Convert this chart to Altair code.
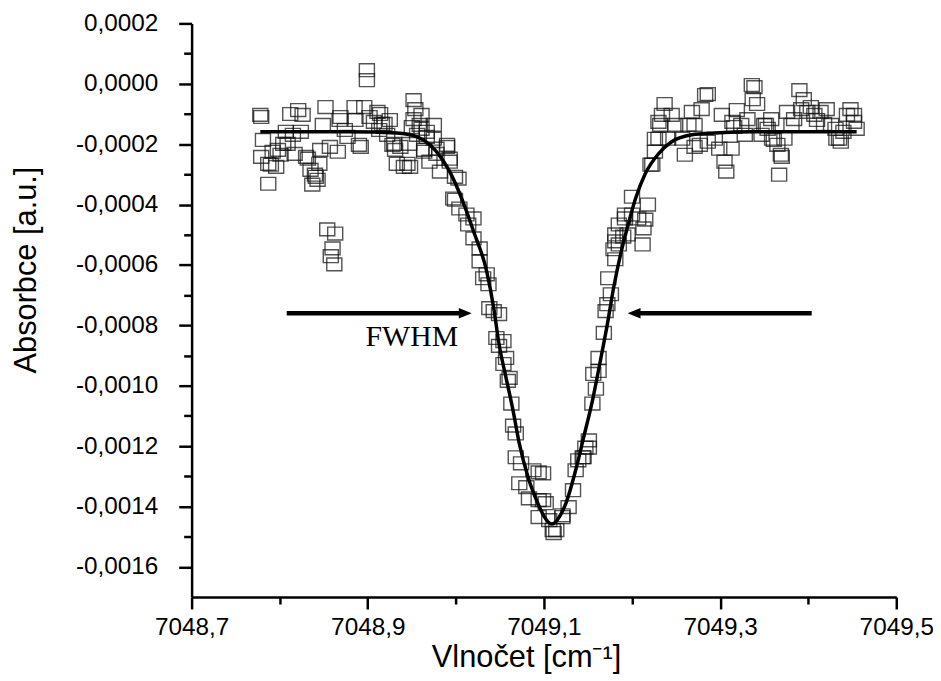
import altair as alt
import pandas as pd

# ---- measured data (absorbance spectrum) ----
scatter_x = [
    7048.778, 7048.779, 7048.781, 7048.779, 7048.787, 7048.787, 7048.790, 7048.792, 7048.798, 7048.801,
    7048.796, 7048.812, 7048.821, 7048.826, 7048.807, 7048.815, 7048.824, 7048.809, 7048.817, 7048.830,
    7048.835, 7048.840, 7048.837, 7048.843, 7048.845, 7048.846, 7048.852, 7048.849, 7048.857, 7048.866,
    7048.869, 7048.874, 7048.877, 7048.885, 7048.892, 7048.890, 7048.896, 7048.899, 7048.899, 7048.902,
    7048.907, 7048.913, 7048.914, 7048.919, 7048.922, 7048.925, 7048.930, 7048.931, 7048.933, 7048.941,
    7048.945, 7048.937, 7048.947, 7048.952, 7048.950,
    7048.854, 7048.863, 7048.860, 7048.858, 7048.862,
    7048.804, 7048.832, 7048.841, 7048.868, 7048.886, 7048.911, 7048.916, 7048.928, 7048.954, 7048.961,
    7048.961, 7048.975, 7048.967, 7048.964, 7048.970, 7048.978, 7048.990, 7048.993, 7048.982, 7048.999,
    7048.997,
    7048.952, 7048.959, 7048.967, 7048.956, 7048.964, 7048.948, 7048.975, 7048.978, 7048.990, 7048.993,
    7049.003, 7048.999, 7049.004, 7049.012, 7049.020, 7049.014, 7049.020, 7049.027, 7049.027, 7049.035,
    7049.031, 7049.037, 7049.038, 7049.043, 7049.049, 7049.046, 7049.054, 7049.049, 7049.057, 7049.054,
    7049.061, 7049.059, 7049.063, 7049.065, 7049.068, 7049.068, 7049.074, 7049.088, 7049.094, 7049.072,
    7049.080, 7049.083, 7049.094, 7049.102, 7049.106, 7049.110, 7049.111, 7049.094, 7049.121, 7049.128,
    7049.133, 7049.136, 7049.144, 7049.147, 7049.151,
    7049.099, 7049.099, 7049.114, 7049.121, 7049.139, 7049.145, 7049.151, 7049.155, 7049.159, 7049.156,
    7049.162, 7049.162, 7049.168, 7049.170, 7049.172, 7049.176, 7049.173, 7049.181, 7049.179, 7049.185,
    7049.181, 7049.190, 7049.185, 7049.192, 7049.200, 7049.207, 7049.215, 7049.213, 7049.212, 7049.200,
    7049.218, 7049.223, 7049.226, 7049.230, 7049.232, 7049.234,
    7049.226, 7049.230, 7049.237, 7049.245, 7049.249, 7049.241, 7049.257, 7049.260, 7049.268, 7049.271,
    7049.279, 7049.283, 7049.286, 7049.277, 7049.286, 7049.294, 7049.302, 7049.299, 7049.305, 7049.307,
    7049.313, 7049.319, 7049.314, 7049.324, 7049.328, 7049.331, 7049.336, 7049.339, 7049.337, 7049.342,
    7049.347, 7049.352, 7049.358, 7049.354, 7049.359, 7049.365, 7049.369, 7049.367, 7049.373, 7049.376,
    7049.381, 7049.384, 7049.390, 7049.395, 7049.392, 7049.399, 7049.403, 7049.407, 7049.410, 7049.414,
    7049.418, 7049.421, 7049.426, 7049.431, 7049.435, 7049.437, 7049.440, 7049.444, 7049.448, 7049.452,
    7049.455,
    7049.221, 7049.192, 7049.181, 7049.195, 7049.264, 7049.271, 7049.350, 7049.361, 7049.370, 7049.432,
    7049.452, 7049.316,
]
scatter_y = [
    -0.000103, -0.000110, -0.000186, -0.000242, -0.000331, -0.000265, -0.000268, -0.000225, -0.000219, -0.000235,
    -0.000275, -0.000100, -0.000087, -0.000103, -0.000159, -0.000169, -0.000159, -0.000199, -0.000232, -0.000242,
    -0.000285, -0.000301, -0.000334, -0.000318, -0.000265, -0.000219, -0.000077, -0.000136, -0.000209, -0.000225,
    -0.000110, -0.000153, -0.000176, -0.000077, -0.000209, -0.000202, -0.000077, 0.000045, 0.000012, -0.000110,
    -0.000126, -0.000153, -0.000100, -0.000133, -0.000169, -0.000120, -0.000199, -0.000219, -0.000265, -0.000275,
    -0.000265, -0.000209, -0.000199, -0.000054, -0.000143,
    -0.000482, -0.000496, -0.000545, -0.000571, -0.000598,
    -0.000199, -0.000248, -0.000308, -0.000120, -0.000120, -0.000093, -0.000133, -0.000202, -0.000084, -0.000103,
    -0.000149, -0.000136, -0.000176, -0.000219, -0.000258, -0.000232, -0.000209, -0.000248, -0.000291, -0.000308,
    -0.000380,
    -0.000117, -0.000136, -0.000159, -0.000169, -0.000225, -0.000275, -0.000182, -0.000215, -0.000202, -0.000258,
    -0.000314, -0.000384, -0.000413, -0.000433, -0.000446, -0.000466, -0.000512, -0.000545, -0.000588, -0.000631,
    -0.000644, -0.000664, -0.000743, -0.000753, -0.000763, -0.000842, -0.000852, -0.000868, -0.000908, -0.000928,
    -0.000974, -0.000984, -0.001059, -0.001132, -0.001158, -0.001237, -0.001257, -0.001280, -0.001287, -0.001323,
    -0.001336, -0.001373, -0.001379, -0.001389, -0.001445, -0.001478, -0.001488, -0.001435, -0.001435, -0.001402,
    -0.001346, -0.001280, -0.001237, -0.001205, -0.001181,
    -0.001290, -0.001379, -0.001478, -0.001429, -0.001247, -0.001237, -0.001205, -0.001059, -0.001010, -0.000961,
    -0.000951, -0.000908, -0.000825, -0.000753, -0.000730, -0.000697, -0.000644, -0.000581, -0.000548, -0.000532,
    -0.000499, -0.000506, -0.000466, -0.000446, -0.000433, -0.000446, -0.000450, -0.000479, -0.000532, -0.000374,
    -0.000400, -0.000268, -0.000225, -0.000182, -0.000136, -0.000103,
    -0.000182, -0.000126, -0.000067, -0.000103, -0.000136, -0.000182, -0.000182, -0.000235, -0.000093, -0.000136,
    -0.000084, -0.000037, -0.000034, -0.000202, -0.000192, -0.000182, -0.000103, -0.000215, -0.000258, -0.000291,
    -0.000215, -0.000087, -0.000126, -0.000136, -0.000169, -0.000117, -0.000004, -0.000011, -0.000051, -0.000067,
    -0.000169, -0.000136, -0.000117, -0.000149, -0.000182, -0.000202, -0.000235, -0.000301, -0.000182, -0.000093,
    -0.000136, -0.000117, -0.000021, -0.000051, -0.000084, -0.000093, -0.000077, -0.000103, -0.000120, -0.000093,
    -0.000133, -0.000084, -0.000136, -0.000149, -0.000182, -0.000192, -0.000159, -0.000103, -0.000084, -0.000126,
    -0.000149,
    -0.000268, -0.000433, -0.000522, -0.000499, -0.000136, -0.000209, -0.000136, -0.000186, -0.000242, -0.000182,
    -0.000103, -0.000143,
]

# ---- fitted profile ----
fit_x = [7048.778, 7048.821, 7048.877, 7048.933, 7048.956, 7048.978, 7048.993, 7049.008, 7049.021, 7049.035,
         7049.043, 7049.049, 7049.057, 7049.065, 7049.072, 7049.082, 7049.093, 7049.100, 7049.105, 7049.109,
         7049.113, 7049.118, 7049.125, 7049.136, 7049.145, 7049.155, 7049.164, 7049.172, 7049.179, 7049.187,
         7049.195, 7049.204, 7049.215, 7049.230, 7049.245, 7049.268, 7049.294, 7049.339, 7049.455]
fit_y = [-0.000159, -0.000159, -0.000159, -0.000163, -0.000176, -0.000225, -0.000291, -0.000390, -0.000496, -0.000621,
         -0.000743, -0.000862, -0.000974, -0.001083, -0.001191, -0.001303, -0.001389, -0.001432, -0.001452, -0.001458,
         -0.001452, -0.001432, -0.001389, -0.001280, -0.001172, -0.001050, -0.000918, -0.000796, -0.000677, -0.000565,
         -0.000473, -0.000380, -0.000298, -0.000232, -0.000192, -0.000169, -0.000163, -0.000159, -0.000159]

# ---- FWHM annotation ----
arrow_y = -0.00076
arrow_left = [7048.808, 7049.010]      # tail, end of shaft
arrow_left_tip = 7049.018
arrow_right = [7049.203, 7049.404]     # end of shaft, tail
arrow_right_tip = 7049.195
label_text = "FWHM"
label_x = 7048.950
label_y = -0.000840

# ---- axis ticks ----
x_major = [7048.7, 7048.9, 7049.1, 7049.3, 7049.5]
x_minor = [7048.8, 7049.0, 7049.2, 7049.4]
y_major = [0.0002, 0.0, -0.0002, -0.0004, -0.0006, -0.0008, -0.0010, -0.0012, -0.0014, -0.0016]
y_minor = [0.0001, -0.0001, -0.0003, -0.0005, -0.0007, -0.0009, -0.0011, -0.0013, -0.0015]

x_title = "Vlnočet [cm⁻¹]"
y_title = "Absorbce [a.u.]"

x_axis = alt.Axis(
    values=x_major + x_minor,
    labelExpr="round(datum.value*10) % 2 == 1 ? replace(format(datum.value, '.1f'), '.', ',') : ''",
    tickSize={"condition": {"test": "round(datum.value*10) % 2 == 1", "value": 12}, "value": 7},
    title=x_title, titleX=337, titleY=70, titleAlign="center", titleBaseline="alphabetic",
    titleFontSize=31, labelFontSize=24.5, labelPadding=7,
)
y_axis = alt.Axis(
    values=y_major + y_minor,
    labelExpr="abs(round(datum.value*10000)) % 2 == 0 ? replace(replace(format(datum.value, '.4f'), '.', ','), '−', '-') : ''",
    tickSize={"condition": {"test": "abs(round(datum.value*10000)) % 2 == 0", "value": 13}, "value": 8},
    title=y_title, titleX=-157, titleY=248, titleAngle=270, titleAlign="center", titleBaseline="alphabetic",
    titleFontSize=31, labelFontSize=24.5, labelPadding=21,
)

xs = alt.Scale(domain=[7048.7, 7049.5], nice=False, zero=False)
ys = alt.Scale(domain=[-0.0017, 0.0002], nice=False, zero=False)

def X(field="x"):
    return alt.X(f"{field}:Q", scale=xs, axis=x_axis)

def Y(field="y"):
    return alt.Y(f"{field}:Q", scale=ys, axis=y_axis)

df_pts = pd.DataFrame({"x": scatter_x, "y": scatter_y})
df_fit = pd.DataFrame({"x": fit_x, "y": fit_y})
df_arrows = pd.DataFrame({"x": [arrow_left[0], arrow_right[0]], "x2": [arrow_left[1], arrow_right[1]],
                          "y": [arrow_y, arrow_y]})
df_head_r = pd.DataFrame({"x": [arrow_left_tip], "y": [arrow_y]})
df_head_l = pd.DataFrame({"x": [arrow_right_tip], "y": [arrow_y]})
df_label = pd.DataFrame({"x": [label_x], "y": [label_y], "t": [label_text]})

pts = alt.Chart(df_pts).mark_point(
    shape="M-1,-0.85H1V0.85H-1Z", size=230, filled=False,
    stroke="#111111", strokeWidth=1.4, opacity=0.72,
).encode(x=X(), y=Y())

fit = alt.Chart(df_fit).mark_line(color="black", strokeWidth=3.5, interpolate="monotone").encode(x=X(), y=Y())

shafts = alt.Chart(df_arrows).mark_rule(color="black", strokeWidth=4.5).encode(x=X(), x2="x2:Q", y=Y())

head_r = alt.Chart(df_head_r).mark_point(
    shape="M0,0L-2,-0.8L-2,0.8Z", size=169, filled=True, color="black", opacity=1, strokeWidth=0
).encode(x=X(), y=Y())
head_l = alt.Chart(df_head_l).mark_point(
    shape="M0,0L2,-0.8L2,0.8Z", size=169, filled=True, color="black", opacity=1, strokeWidth=0
).encode(x=X(), y=Y())

label = alt.Chart(df_label).mark_text(
    font="Liberation Serif", fontSize=30, color="black", align="center", baseline="middle"
).encode(x=X(), y=Y(), text="t:N")

chart = alt.layer(pts, fit, shafts, head_r, head_l, label).properties(
    width=710, height=578, autosize="none",
    padding={"left": 185, "top": 13, "right": 37, "bottom": 78},
).configure_view(stroke=None).configure_axis(
    grid=False, domainColor="black", domainWidth=2.5, tickColor="black", tickWidth=2.5,
    labelColor="black", titleColor="black", labelFont="Liberation Sans", titleFont="Liberation Sans",
    titleFontWeight="normal", labelFlush=False, labelOverlap=False,
)

chart.save("out.html", embed_options={"renderer": "svg", "actions": False})
